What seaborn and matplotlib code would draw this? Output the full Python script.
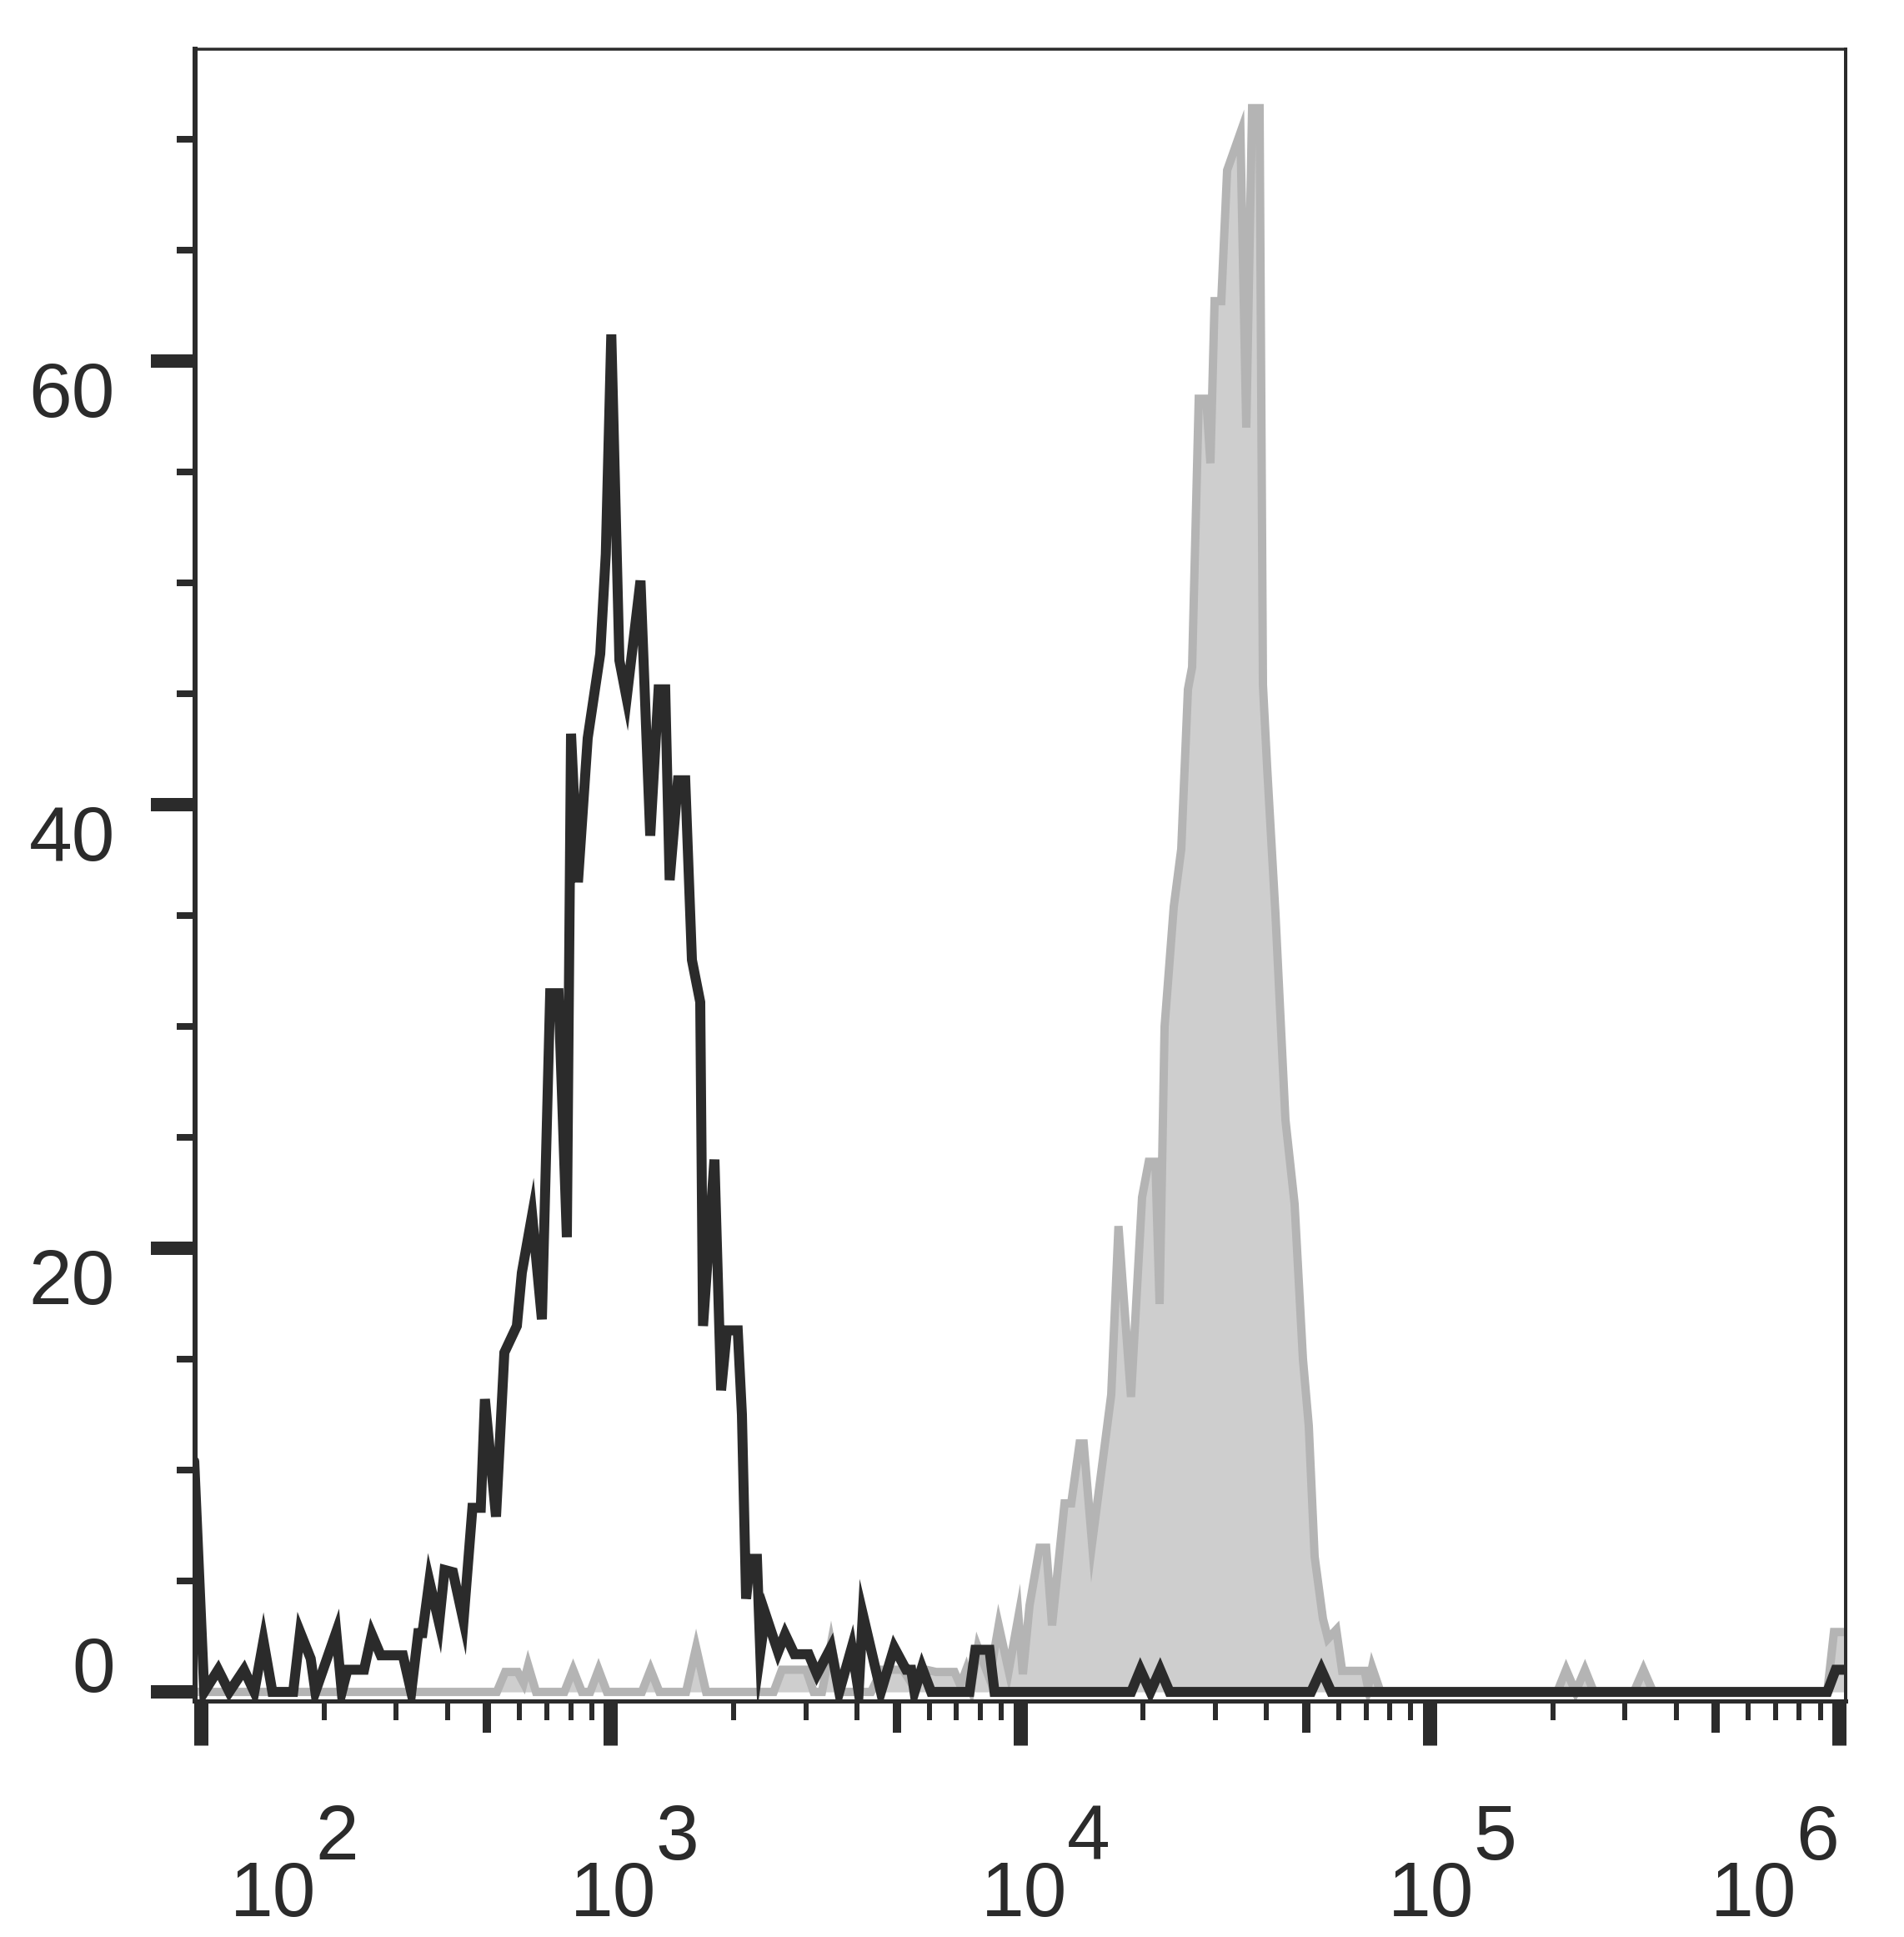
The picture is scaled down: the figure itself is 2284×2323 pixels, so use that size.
import numpy as np
import pandas as pd
import matplotlib
matplotlib.use("Agg")
import matplotlib.pyplot as plt
import matplotlib.transforms as mtransforms
from matplotlib.ticker import FixedLocator, NullFormatter, NullLocator
import seaborn as sns

# ---------------- data (x in log10 units, y = count) ----------------
black_log_x = [1.9837, 2.0081, 2.0421, 2.0692, 2.1052, 2.1303, 2.1527, 2.1745, 2.2253, 2.2422,
               2.2681, 2.2795, 2.3304, 2.3440, 2.3577, 2.3984, 2.4173, 2.4391, 2.4932, 2.5136,
               2.5307, 2.5409, 2.5578, 2.5816, 2.5950, 2.6154, 2.6412, 2.6630, 2.6834, 2.6935,
               2.7206, 2.7410, 2.7715, 2.7837, 2.8088, 2.8326, 2.8529, 2.8733, 2.8936, 2.9038,
               2.9207, 2.9445, 2.9751, 2.9887, 3.0021, 3.0219, 3.0396, 3.0734, 3.0972, 3.1176,
               3.1338, 3.1446, 3.1650, 3.1827, 3.1990, 3.2193, 3.2261, 3.2540, 3.2702, 3.2845,
               3.3109, 3.3211, 3.3313, 3.3415, 3.3578, 3.3659, 3.3787, 3.4093, 3.4264, 3.4494,
               3.4840, 3.5043, 3.5383, 3.5587, 3.5892, 3.6061, 3.6163, 3.6605, 3.6930, 3.7221,
               3.7344, 3.7425, 3.7608, 3.7832, 3.8768, 3.8911, 3.9257, 3.9379, 4.2718, 4.2941,
               4.3186, 4.3424, 4.3654, 4.7110, 4.7359, 4.7603, 5.9715, 5.9919, 6.0285]
black_count = [10.4, 0, 1.0, 0, 1.0, 0, 2.3, 0, 0, 2.7,
               1.5, 0, 2.7, 0, 1.0, 1.0, 2.6, 1.65, 1.65, 0,
               2.65, 2.65, 5.0, 3.1, 5.5, 5.4, 3.2, 8.3, 8.3, 13.2,
               7.9, 15.3, 16.5, 18.9, 21.5, 16.8, 31.5, 31.5, 20.5, 43.2,
               36.5, 43.0, 46.8, 51.3, 61.2, 46.5, 44.8, 50.1, 38.6, 45.2,
               45.2, 36.6, 41.1, 41.1, 33.0, 31.1, 16.5, 24.0, 13.6, 16.3,
               16.3, 12.5, 4.2, 6.0, 6.0, 1.8, 3.5, 1.8, 2.6, 1.7,
               1.7, 0.8, 2.0, 0, 2.0, 0, 3.5, 0, 2.0, 1.0,
               1.0, 0, 1.1, 0, 0, 1.9, 1.9, 0, 0, 1.0,
               0, 1.0, 0, 0, 1.0, 0, 0, 1.0, 1.0]

gray_log_x = [1.9837, 2.7226, 2.7430, 2.7735, 2.7878, 2.7990, 2.8183, 2.8875, 2.9089, 2.9303,
              2.9506, 2.9710, 2.9914, 3.0768, 3.0980, 3.1196, 3.1847, 3.2092, 3.2336, 3.3985,
              3.4188, 3.4779, 3.4962, 3.5165, 3.5389, 3.5613, 3.6366, 3.6631, 3.7140, 3.7384,
              3.7710, 3.7954, 3.8402, 3.8545, 3.8687, 3.8809, 3.8972, 3.9257, 3.9481, 3.9725,
              3.9963, 4.0071, 4.0234, 4.0478, 4.0641, 4.0784, 4.1089, 4.1252, 4.1456, 4.1557,
              4.1761, 4.2229, 4.2406, 4.2712, 4.2982, 4.3145, 4.3308, 4.3410, 4.3532, 4.3756,
              4.3939, 4.4102, 4.4204, 4.4366, 4.4550, 4.4651, 4.4753, 4.4916, 4.5059, 4.5384,
              4.5527, 4.5669, 4.5852, 4.5934, 4.6036, 4.6239, 4.6483, 4.6707, 4.6911, 4.7053,
              4.7196, 4.7399, 4.7522, 4.7725, 4.7868, 4.8417, 4.8499, 4.8601, 4.8804, 5.3120,
              5.3337, 5.3567, 5.3797, 5.4015, 5.4992, 5.5226, 5.5460, 5.9715, 5.9878, 6.0285]
gray_count = [0, 0, 0.9, 0.9, 0.4, 1.2, 0, 0, 1.0, 0,
              0, 1.0, 0, 0, 1.0, 0, 0, 2.0, 0, 0,
              1.0, 1.0, 0, 0, 2.2, 0, 0, 1.0, 1.0, 0.3,
              1.0, 0.9, 0.9, 0.3, 1.0, 0.2, 2.0, 0.6, 3.0, 0.95,
              3.4, 0.8, 3.9, 6.5, 6.5, 3.0, 8.5, 8.5, 11.2, 11.2,
              6.7, 13.4, 21.0, 13.3, 22.3, 23.9, 23.9, 17.5, 30.0, 35.4,
              38.0, 45.2, 46.2, 58.3, 58.3, 55.4, 62.7, 62.7, 68.6, 70.3,
              57.0, 71.4, 71.4, 45.4, 41.7, 35.1, 25.8, 22.0, 15.0, 12.0,
              6.1, 3.3, 2.4, 2.8, 0.95, 0.95, 0.2, 1.1, 0, 0,
              1.0, 0, 1.0, 0, 0, 1.0, 0, 0, 2.7, 2.7]

y_major_ticks = [0, 20, 40, 60]
y_minor_ticks = [5, 10, 15, 25, 30, 35, 45, 50, 55, 65, 70]
x_decade_exponents = [2, 3, 4, 5, 6]
x_mid_ticks = [5e2, 5e3, 5e4, 5e5]
x_minor_mult = [2, 3, 4, 6, 7, 8, 9]

# ---------------- style ----------------
DPI = 100
PT = 72.0 / DPI  # points per pixel
INK = "#2b2b2b"

sns.set_theme(style="ticks")
plt.rcParams["font.family"] = ["Liberation Sans", "DejaVu Sans"]

fig = plt.figure(figsize=(22.84, 23.23), dpi=DPI)
ax = fig.add_axes([0.10245, 0.12183, 0.86690, 0.85278])

df_black = pd.DataFrame({"x": 10 ** np.array(black_log_x), "y": black_count})
df_gray = pd.DataFrame({"x": 10 ** np.array(gray_log_x), "y": gray_count})

ax.fill_between(df_gray["x"], df_gray["y"], 0, color="#cecece", linewidth=0, zorder=1)
sns.lineplot(data=df_gray, x="x", y="y", ax=ax, color="#b4b4b4", linewidth=10 * PT,
             estimator=None, sort=False, solid_joinstyle="miter", zorder=2)
sns.lineplot(data=df_black, x="x", y="y", ax=ax, color=INK, linewidth=12 * PT,
             estimator=None, sort=False, solid_joinstyle="miter", zorder=3)

ax.set_xscale("log")
ax.set_xlim(10 ** 1.9857, 10 ** 6.0163)
ax.set_ylim(-0.41, 74.06)
ax.set_xlabel("")
ax.set_ylabel("")

# spines
spine_w = {"left": 6, "bottom": 5, "top": 3.5, "right": 4}
for side, w in spine_w.items():
    ax.spines[side].set_visible(True)
    ax.spines[side].set_linewidth(w * PT)
    ax.spines[side].set_color(INK)

# y ticks
ax.yaxis.set_major_locator(FixedLocator(y_major_ticks))
ax.yaxis.set_minor_locator(FixedLocator(y_minor_ticks))
ax.yaxis.set_major_formatter(NullFormatter())
ax.tick_params(axis="y", which="major", direction="out", length=53 * PT, width=16 * PT,
               color=INK, left=True, right=False)
ax.tick_params(axis="y", which="minor", direction="out", length=22 * PT, width=8 * PT,
               color=INK, left=True, right=False)

# x ticks
ax.xaxis.set_major_locator(FixedLocator([10.0 ** e for e in x_decade_exponents]))
ax.xaxis.set_minor_locator(FixedLocator([m * 10.0 ** e for e in range(1, 6) for m in x_minor_mult]))
ax.xaxis.set_major_formatter(NullFormatter())
ax.xaxis.set_minor_formatter(NullFormatter())
ax.tick_params(axis="x", which="major", direction="out", length=53 * PT, width=17 * PT,
               color=INK, bottom=True, top=False)
ax.tick_params(axis="x", which="minor", direction="out", length=23 * PT, width=6 * PT,
               color=INK, bottom=True, top=False)

# medium ticks at 5 x 10^n on a twin axis
ax2 = ax.twiny()
ax2.set_xscale("log")
ax2.set_xlim(ax.get_xlim())
ax2.xaxis.set_ticks_position("bottom")
ax2.xaxis.set_major_locator(FixedLocator(x_mid_ticks))
ax2.xaxis.set_minor_locator(NullLocator())
ax2.xaxis.set_major_formatter(NullFormatter())
ax2.tick_params(axis="x", which="major", direction="out", length=38 * PT, width=10 * PT,
                color=INK, labelbottom=False, labeltop=False)
for s in ax2.spines.values():
    s.set_visible(False)

FS = 67  # font size in points

# y tick labels
ytrans = mtransforms.blended_transform_factory(ax.transAxes, ax.transData) + \
    mtransforms.ScaledTranslation(-96 / DPI, 0, fig.dpi_scale_trans)
for v in y_major_ticks:
    ax.text(0, v, str(v), transform=ytrans, ha="right",
            va=("baseline" if v == 0 else "top"), fontsize=FS, color=INK, clip_on=False)

# x tick labels: "10" + same-size raised exponent
label_dx = {2: 86.5, 3: 3, 4: 5, 5: 2, 6: -102.5}
for e in x_decade_exponents:
    base_t = mtransforms.blended_transform_factory(ax.transData, ax.transAxes)
    t10 = base_t + mtransforms.ScaledTranslation(label_dx[e] / DPI, -258 / DPI, fig.dpi_scale_trans)
    texp = base_t + mtransforms.ScaledTranslation((label_dx[e] + 51) / DPI, -190 / DPI, fig.dpi_scale_trans)
    ax.text(10.0 ** e, 0, "10", transform=t10, ha="center", va="baseline",
            fontsize=FS, color=INK, clip_on=False)
    ax.text(10.0 ** e, 0, str(e), transform=texp, ha="left", va="baseline",
            fontsize=FS, color=INK, clip_on=False)

fig.savefig("out.png", dpi=DPI, facecolor="white")
